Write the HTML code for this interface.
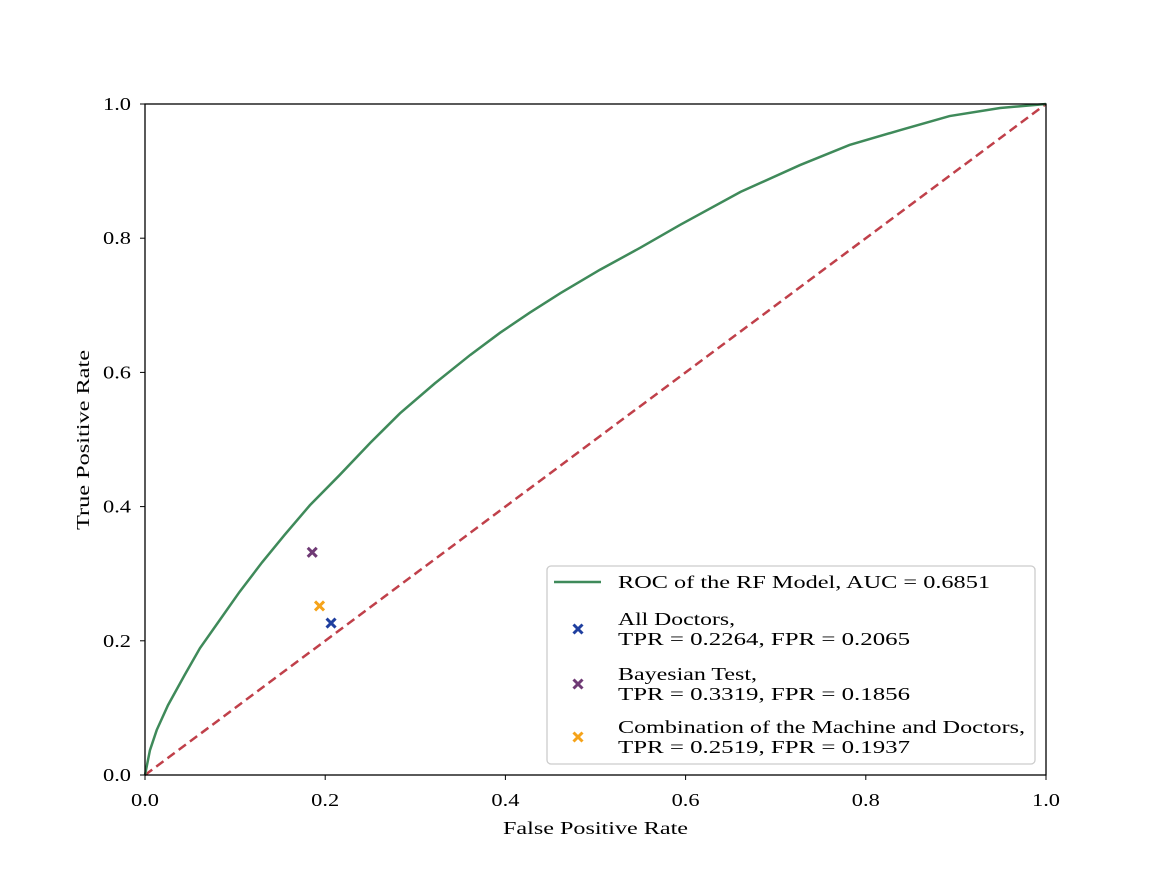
<!DOCTYPE html>
<html><head><meta charset="utf-8"><style>
body{margin:0;background:#fff}
svg text{font-family:"Liberation Serif",serif;fill:#000}
</style></head><body>
<svg id="chart" width="1163" height="872">
<rect width="1163" height="872" fill="#fff"/>
<g id="plot"></g>
</svg>
<script>
const rocFpr=[0,0.0055,0.013,0.0255,0.044,0.061,0.083,0.105,0.130,0.155,0.183,0.216,0.250,0.283,0.322,0.361,0.394,0.427,0.461,0.505,0.550,0.594,0.661,0.727,0.782,0.838,0.893,0.949,1];
const rocTpr=[0,0.037,0.067,0.104,0.149,0.189,0.231,0.273,0.317,0.358,0.402,0.447,0.495,0.539,0.584,0.626,0.659,0.689,0.718,0.753,0.786,0.820,0.869,0.909,0.939,0.961,0.982,0.994,1];
const pointNames=["all-doctors","bayesian-test","combination"];
const pointFpr=[0.2065,0.1856,0.1937];
const pointTpr=[0.2264,0.3319,0.2519];
const pointColors=["#1f3f9f","#6f3a75","#f5a31a"];
const ticks=[0,0.2,0.4,0.6,0.8,1.0];
const tickLabels=["0.0","0.2","0.4","0.6","0.8","1.0"];
const X0=145,X1=1046,Y0=775,Y1=104;
const sx=v=>X0+v*(X1-X0), sy=v=>Y0-v*(Y0-Y1);
const NS="http://www.w3.org/2000/svg";
const g=document.getElementById('plot');
function mk(t,a,txt){const e=document.createElementNS(NS,t);for(const k in a)e.setAttribute(k,a[k]);if(txt!==undefined)e.textContent=txt;g.appendChild(e);return e;}
let e=mk('line',{x1:sx(0),y1:sy(0),x2:sx(1),y2:sy(1),stroke:'#c0404a','stroke-width':2.5,'stroke-dasharray':'9,5'});


e=mk('polyline',{points:rocFpr.map((f,i)=>sx(f)+','+sy(rocTpr[i])).join(' '),fill:'none',stroke:'#3f8a5a','stroke-width':2.5});


function cross(x,y,c,s){return mk('path',{d:`M${x-s},${y-s}L${x+s},${y+s}M${x-s},${y+s}L${x+s},${y-s}`,stroke:c,'stroke-width':3});}
pointFpr.forEach((f,i)=>{const p=cross(sx(f),sy(pointTpr[i]),pointColors[i],4.5);

});
e=mk('rect',{x:X0,y:Y1,width:X1-X0,height:Y0-Y1,fill:'none',stroke:'#000','stroke-width':1.3});


ticks.forEach((t,i)=>{
 mk('line',{x1:sx(t),y1:Y0,x2:sx(t),y2:Y0+5,stroke:'#000','stroke-width':1});
 e=mk('text',{x:sx(t)-14,y:Y0+31,'font-size':18,textLength:28,lengthAdjust:'spacingAndGlyphs'},tickLabels[i]);
 
 
 mk('line',{x1:X0-5,y1:sy(t),x2:X0,y2:sy(t),stroke:'#000','stroke-width':1});
 e=mk('text',{x:X0-42,y:sy(t)+6,'font-size':18,textLength:28,lengthAdjust:'spacingAndGlyphs'},tickLabels[i]);
 
 
});
e=mk('text',{x:503,y:834,'font-size':18,textLength:185,lengthAdjust:'spacingAndGlyphs'},'False Positive Rate');


e=mk('text',{x:0,y:0,'font-size':18,textLength:180,lengthAdjust:'spacingAndGlyphs',transform:`translate(89,530) rotate(-90)`},'True Positive Rate');


e=mk('rect',{x:547,y:566,width:488,height:198,rx:4,fill:'#fff',stroke:'#ccc','stroke-width':1.3});


mk('line',{x1:554,y1:582,x2:601,y2:582,stroke:'#3f8a5a','stroke-width':2.5});
e=mk('text',{x:618,y:588,'font-size':18,textLength:372,lengthAdjust:'spacingAndGlyphs'},'ROC of the RF Model, AUC = 0.6851');


const legY=[629,684,737];
const legL1=["All Doctors,","Bayesian Test,","Combination of the Machine and Doctors,"];
const legW1=[117,139,407];
const legL2=["TPR = 0.2264, FPR = 0.2065","TPR = 0.3319, FPR = 0.1856","TPR = 0.2519, FPR = 0.1937"];
legY.forEach((y,i)=>{cross(578,y,pointColors[i],4.5);
 e=mk('text',{x:618,y:y-4,'font-size':18,textLength:legW1[i],lengthAdjust:'spacingAndGlyphs'},legL1[i]);
 
 
 mk('text',{x:618,y:y+16,'font-size':18,textLength:292,lengthAdjust:'spacingAndGlyphs'},legL2[i]);
});
</script>
</body></html>
